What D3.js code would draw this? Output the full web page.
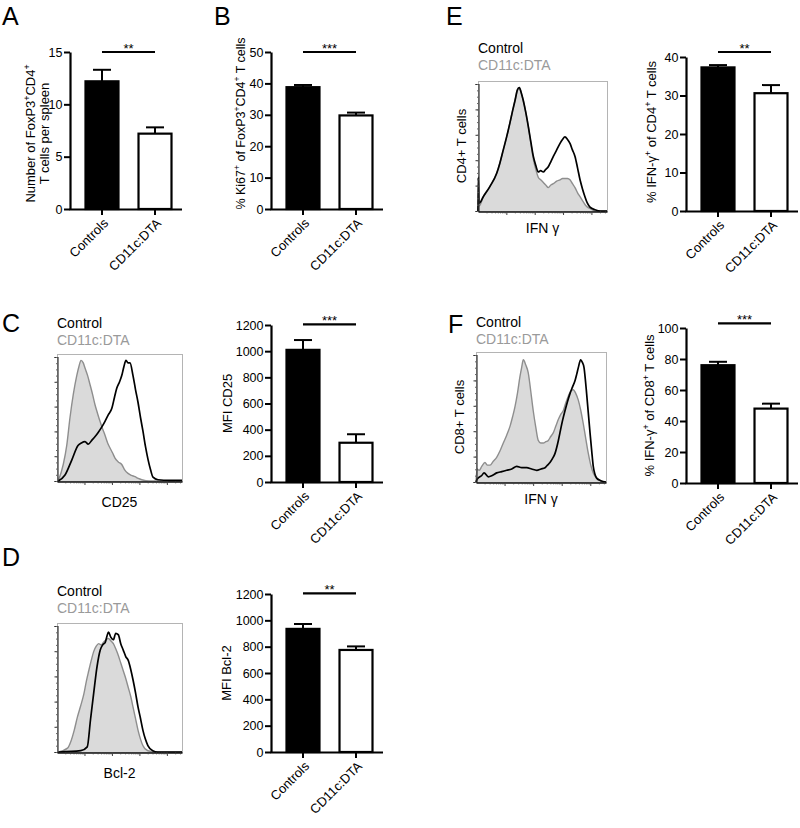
<!DOCTYPE html>
<html><head><meta charset="utf-8">
<script src="https://cdn.jsdelivr.net/npm/d3@7"></script>
<style>
body{margin:0;background:#fff;}
svg text{font-family:"Liberation Sans",Arial,Helvetica,sans-serif;}
</style></head><body>
<svg id="fig" width="800" height="828"></svg>
<script>
// ---------------- DATA ----------------
const groups = ["Controls", "CD11c:DTA"];

const aValues = [12.2, 7.2],   aErrors = [1.1, 0.6],  aTicks = [0, 5, 10, 15],            aSig = "**",  aSigLevel = 15;
const bValues = [38.8, 29.8],  bErrors = [0.7, 0.9],  bTicks = [0, 10, 20, 30, 40, 50],   bSig = "***", bSigLevel = 50;
const cValues = [1010, 300],   cErrors = [75, 65],    cTicks = [0, 200, 400, 600, 800, 1000, 1200], cSig = "***", cSigLevel = 1205;
const dValues = [935, 775],    dErrors = [37, 27],    dTicks = [0, 200, 400, 600, 800, 1000, 1200], dSig = "**",  dSigLevel = 1205;
const eValues = [37.3, 30.6],  eErrors = [0.6, 2.1],  eTicks = [0, 10, 20, 30, 40],       eSig = "**",  eSigLevel = 41.3;
const fValues = [76, 48],      fErrors = [2.2, 3.2],  fTicks = [0, 20, 40, 60, 80, 100],  fSig = "***", fSigLevel = 103;

const legendLabels = ["Control", "CD11c:DTA"];

// histogram curves: [channel (% of axis), count (% of max)]
const cControl = [[1,0],[6.4,4.7],[11.8,16.5],[16.8,28],[19.5,30],[22.4,31],[25,29],[27.8,32],[30.5,35],[32.8,38],[35.5,42],[38.4,47],[41,52],[43.8,57],[46,66],[47.8,73],[50,78],[51.8,83],[53.5,90],[55.2,95],[56.8,93],[58.4,93],[60.8,83],[62.8,72],[64.8,62],[66.8,50],[68.8,39],[70.8,27],[72.8,17],[74.8,9],[76.8,3],[80.8,1],[90,0.5],[100,0.5]];
const cDTA = [[1,0],[5,13],[7.8,28],[10.4,50],[13,68],[15.8,83],[17.5,90],[19.2,95],[21,93],[22.4,89],[24.5,83],[26.4,76],[28.5,68],[30.4,60],[32.5,53],[34.4,47],[36.5,41],[38.4,36],[40.5,30],[42.4,26],[44.5,22],[46.4,18],[49,15],[51.8,13],[54,9],[56.8,6],[59.5,4.5],[62.4,3.4],[65,2],[67.8,1],[74,0],[100,0]];
const dControl = [[1,0],[19,1],[24.2,4],[26.8,25],[29.4,46],[32,66],[34.6,79],[36.5,83],[38.6,85],[40,90],[41.2,93],[43,89],[45.1,87],[47,92],[49,91],[51,84],[53,79],[55,74],[57,71],[59,64],[60.8,56],[62.8,46],[64.8,35],[66.8,26],[68.7,17],[70.7,10],[72.7,5],[76.6,1],[80.6,0],[100,0]];
const dDTA = [[1,0],[8.4,3],[11,8],[13.8,17],[16.3,27],[19,36],[21.5,45],[23.5,55],[25.4,63],[27.4,71],[29.4,78],[31.4,82],[33.3,84],[35.3,83],[37.2,85],[39.2,87],[41.2,88],[43.2,86],[45.1,84],[47,80],[49,75],[51,69],[53,63],[55,57],[57,50],[59,43],[60.8,35],[62.8,26],[64.8,17],[66.8,10],[68.7,5],[72.7,1],[80,0],[100,0]];
const eControl = [[0,0],[0.2,26],[0.9,6],[4.1,11],[9.3,19],[14.5,29],[17,37],[19.6,47],[22.2,57],[24.8,68],[26.8,77],[28.7,85],[30.5,93],[32,95],[33.5,91],[35.1,85],[37,76],[39,65],[41,53],[42.9,42],[44.8,35],[46.7,30],[48.6,31],[50.6,30],[52.5,32],[54.5,34],[56.5,38],[58.4,42],[61,47],[63.6,52],[65.5,55],[67.4,57],[69.4,55],[71.3,52],[73.2,47],[75.2,42],[77.2,33],[79.1,24],[81,17],[82.9,11],[84.8,6],[86.8,3],[90.7,1],[95,0],[100,0]];
const eDTA = [[0,0],[0.2,5],[1,4],[4.1,11],[9.3,19],[14.5,29],[17,37],[19.6,47],[22.2,57],[24.8,68],[26.8,77],[28.7,85],[30.5,93],[32,95],[33.5,91],[35.1,85],[37,76],[39,65],[41,52],[42.9,40],[44.8,32],[46.7,26],[48.6,24],[50.6,22],[52.5,20],[54.5,18],[56.5,20],[58.4,21],[61,23],[63.6,24],[65.5,25],[67.4,25],[69.4,25],[71.3,24],[73.2,21],[75.2,18],[77.2,14],[79.1,11],[81,8],[82.9,5],[84.8,3],[86.8,2],[90.7,0],[100,0]];
const fControl = [[0,0],[0.8,2],[4.4,5],[6.2,7],[9.5,4],[12.5,5],[15.9,7],[19.8,8],[23.6,9],[27.5,10],[31.3,12],[35.2,11],[39,11],[42.8,10],[46.7,9],[50,10],[53.1,11],[55,13],[56.9,15],[58.8,18],[60.8,22],[62.7,29],[64.6,38],[66.5,47],[68.5,55],[70.4,62],[72.3,68],[74.2,73],[76.2,78],[77.5,83],[78.7,88],[80.5,94],[81.8,92],[83.1,88],[84.1,79],[85.1,68],[86.4,53],[87.7,38],[89,24],[90.2,12],[91.5,6],[92.8,3],[96,1],[100,0]];
const fDTA = [[0,0],[0.8,10],[2.5,9],[4.4,12],[6.9,15],[8.8,13],[10.8,13],[13.3,16],[15.9,19],[18.5,24],[21,30],[23.6,36],[26.2,43],[28.1,50],[30,58],[32,69],[33.8,81],[35.1,88],[36.4,94],[38.3,90],[40.2,84],[42.1,70],[44,55],[46,42],[47.9,32],[49.8,30],[51.8,30],[53.7,31],[55.6,32],[57.5,35],[59.5,38],[61.4,43],[63.3,48],[65.2,52],[67.2,55],[69.1,61],[71,66],[72.9,70],[74.8,71],[76.8,68],[78.7,63],[80.6,55],[82.5,45],[84.5,33],[86.4,22],[88.3,13],[90.2,7],[92.1,4],[94,2],[98,0],[100,0]];

// ---------------- DRAWING ----------------
const svg = d3.select("#fig");
const FONT = '"Liberation Sans", Arial, Helvetica, sans-serif';

function rich(sel, parts, size) {
  let shifted = false;
  parts.forEach(p => {
    const isSup = p.startsWith("^");
    const t = sel.append("tspan").text(isSup ? p.slice(1) : p);
    if (isSup) {
      t.attr("font-size", size * 0.68);
      if (!shifted) { t.attr("dy", -size * 0.4); shifted = true; }
    } else if (shifted) {
      t.attr("dy", size * 0.4); shifted = false;
    }
  });
}

function panelLetter(t, x, y) {
  svg.append("text").attr("x", x).attr("y", y).attr("font-size", 25).attr("fill", "#000").text(t);
}

function barChart(c) {
  const g = svg.append("g");
  const y = d3.scaleLinear().domain([0, c.max]).range([c.yBottom, c.yTop]);
  const x = d3.scaleBand().domain(groups).range([c.x0 + 14.5, c.x0 + 102.5]).paddingInner(0.34).paddingOuter(0);
  const bw = x.bandwidth();
  const cx = d => x(d) + bw / 2;

  g.selectAll("rect.bar").data(groups).join("rect")
    .attr("class", "bar")
    .attr("x", d => x(d) + 1).attr("width", bw - 2)
    .attr("y", (d, i) => y(c.values[i]))
    .attr("height", (d, i) => y(0) - y(c.values[i]))
    .attr("fill", (d, i) => i === 0 ? "#000" : "#fff")
    .attr("stroke", "#000").attr("stroke-width", 2.2);

  groups.forEach((d, i) => {
    const top = y(c.values[i] + c.errors[i]);
    g.append("line").attr("x1", cx(d)).attr("x2", cx(d))
      .attr("y1", y(c.values[i])).attr("y2", top)
      .attr("stroke", "#000").attr("stroke-width", 2);
    g.append("line").attr("x1", cx(d) - 9).attr("x2", cx(d) + 9)
      .attr("y1", top).attr("y2", top)
      .attr("stroke", "#000").attr("stroke-width", 2);
  });

  const ay = g.append("g").attr("transform", `translate(${c.x0},0)`)
    .call(d3.axisLeft(y).tickValues(c.ticks).tickSize(6).tickSizeOuter(0).tickPadding(1.5).tickFormat(d3.format("d")));
  ay.attr("font-family", FONT).attr("font-size", 12.5);
  ay.select(".domain").attr("stroke", "#000").attr("stroke-width", 2.2);
  ay.selectAll(".tick line").attr("stroke", "#000").attr("stroke-width", 2);
  ay.selectAll(".tick text").attr("fill", "#000");

  g.append("line").attr("x1", c.x0 - 0.5).attr("x2", c.x0 + 112)
    .attr("y1", y(0) + 0.5).attr("y2", y(0) + 0.5)
    .attr("stroke", "#000").attr("stroke-width", 2.2);

  const ax = g.append("g").attr("transform", `translate(0,${y(0)})`)
    .call(d3.axisBottom(x).tickSize(6).tickSizeOuter(0));
  ax.select(".domain").remove();
  ax.attr("font-family", FONT).attr("font-size", 13);
  ax.selectAll(".tick line").attr("stroke", "#000").attr("stroke-width", 2);
  ax.selectAll(".tick text")
    .attr("fill", "#000")
    .attr("text-anchor", "end")
    .attr("dy", null)
    .attr("y", 0)
    .attr("transform", "translate(7,15) rotate(-45)");

  const sy = y(c.sigLevel);
  g.append("line").attr("x1", cx(groups[0])).attr("x2", cx(groups[1]))
    .attr("y1", sy).attr("y2", sy).attr("stroke", "#000").attr("stroke-width", 2.2);
  g.append("text").attr("x", (cx(groups[0]) + cx(groups[1])) / 2).attr("y", sy + 1)
    .attr("text-anchor", "middle").attr("font-size", 13).attr("fill", "#000").text(c.sig);

  const mid = (c.yTop + c.yBottom) / 2;
  c.labels.forEach(l => {
    const t = g.append("text").attr("transform", `translate(${l.x},${mid + (l.dy || 0)}) rotate(-90)`)
      .attr("text-anchor", "middle").attr("font-size", l.size || 13).attr("fill", "#000");
    rich(t, l.parts, l.size || 13);
  });
}

function histogram(c) {
  const g = svg.append("g");
  const x = d3.scaleLinear().domain([0, 100]).range([c.x, c.x + c.w]);
  const y = d3.scaleLinear().domain([0, 100]).range([c.y + c.h, c.y]);

  g.append("rect").attr("x", c.x + 0.5).attr("y", c.y + 0.5).attr("width", c.w).attr("height", c.h)
    .attr("fill", "#fff").attr("stroke", "#b4b4b4").attr("stroke-width", 1);

  const area = d3.area().x(d => x(d[0])).y0(y(0)).y1(d => y(d[1])).curve(d3.curveMonotoneX);
  const line = d3.line().x(d => x(d[0])).y(d => y(d[1])).curve(d3.curveMonotoneX);

  g.append("path").datum(c.gray).attr("d", area).attr("fill", "#dadada");
  g.append("path").datum(c.gray).attr("d", line).attr("fill", "none").attr("stroke", "#8e8e8e").attr("stroke-width", 1.4);
  g.append("path").datum(c.black).attr("d", line).attr("fill", "none").attr("stroke", "#000").attr("stroke-width", 1.7);

  const yt = d3.scaleLinear().domain([0, 100]).range([c.y + c.h, c.y + 3]);
  const al = g.append("g").attr("transform", `translate(${c.x + 0.5},0)`)
    .call(d3.axisLeft(yt).ticks(5).tickSize(3).tickFormat(""));
  al.select(".domain").attr("stroke", "#333").attr("stroke-width", 1.2);
  al.selectAll(".tick line").attr("stroke", "#333");
  const alm = g.append("g").attr("transform", `translate(${c.x + 0.5},0)`)
    .call(d3.axisLeft(yt).ticks(25).tickSize(1.5).tickFormat("").tickSizeOuter(0));
  alm.select(".domain").remove();
  alm.selectAll(".tick line").attr("stroke", "#666");

  const xl = d3.scaleLog().domain([10, Math.pow(10, 5.55)]).range([c.x, c.x + c.w]);
  const decades = [100, 1000, 10000, 100000];
  const ab = g.append("g").attr("transform", `translate(0,${c.y + c.h + 0.5})`)
    .call(d3.axisBottom(xl).tickValues(xl.ticks().filter(v => v >= 20)).tickSize(1.8).tickFormat("").tickSizeOuter(0));
  ab.select(".domain").attr("stroke", "#111").attr("stroke-width", 1.3);
  ab.selectAll(".tick line").attr("stroke", "#444").attr("y2", v => decades.includes(v) ? 3.5 : 1.8);

  g.append("text").attr("x", c.x).attr("y", c.legendY).attr("font-size", 14).attr("fill", "#000").text(legendLabels[0]);
  g.append("text").attr("x", c.x).attr("y", c.legendY + 17).attr("font-size", 14).attr("fill", "#9a9a9a").text(legendLabels[1]);

  g.append("text").attr("x", c.x + c.w / 2).attr("y", c.y + c.h + c.xLabelDy)
    .attr("text-anchor", "middle").attr("font-size", 14).attr("fill", "#000").text(c.xLabel);

  if (c.yLabel) {
    g.append("text").attr("transform", `translate(${c.x - 12},${c.y + c.h / 2}) rotate(-90)`)
      .attr("text-anchor", "middle").attr("font-size", 13).attr("fill", "#000").text(c.yLabel);
  }
}

panelLetter("A", 2, 25);
panelLetter("B", 214, 25);
panelLetter("C", 2, 332);
panelLetter("D", 2, 566);
panelLetter("E", 446, 25);
panelLetter("F", 448, 333);

barChart({x0: 70, yTop: 52, yBottom: 209, max: 15, ticks: aTicks, values: aValues, errors: aErrors, sig: aSig, sigLevel: aSigLevel,
  labels: [{x: 35, dy: 3, parts: ["Number of FoxP3", "^+", "CD4", "^+"]}, {x: 49, dy: 3, parts: ["T cells per spleen"]}]});
barChart({x0: 271, yTop: 52, yBottom: 209, max: 50, ticks: bTicks, values: bValues, errors: bErrors, sig: bSig, sigLevel: bSigLevel,
  labels: [{x: 245, dy: -7, size: 12.5, parts: ["% Ki67", "^+", " of FoxP3", "^+", "CD4", "^+", " T cells"]}]});
barChart({x0: 271, yTop: 325, yBottom: 482, max: 1200, ticks: cTicks, values: cValues, errors: cErrors, sig: cSig, sigLevel: cSigLevel,
  labels: [{x: 232, parts: ["MFI CD25"]}]});
barChart({x0: 271, yTop: 594, yBottom: 752, max: 1200, ticks: dTicks, values: dValues, errors: dErrors, sig: dSig, sigLevel: dSigLevel,
  labels: [{x: 231, parts: ["MFI Bcl-2"]}]});
barChart({x0: 686, yTop: 57, yBottom: 211, max: 40, ticks: eTicks, values: eValues, errors: eErrors, sig: eSig, sigLevel: eSigLevel,
  labels: [{x: 656, dy: -2, parts: ["% IFN-γ", "^+", " of CD4", "^+", " T cells"]}]});
barChart({x0: 686, yTop: 328, yBottom: 483, max: 100, ticks: fTicks, values: fValues, errors: fErrors, sig: fSig, sigLevel: fSigLevel,
  labels: [{x: 654, parts: ["% IFN-γ", "^+", " of CD8", "^+", " T cells"]}]});

histogram({x: 57, y: 354, w: 125, h: 127, gray: cDTA, black: cControl, legendY: 328, xLabel: "CD25", xLabelDy: 26});
histogram({x: 57, y: 623, w: 125, h: 129, gray: dDTA, black: dControl, legendY: 596, xLabel: "Bcl-2", xLabelDy: 26});
histogram({x: 478, y: 81, w: 129, h: 130, gray: eDTA, black: eControl, legendY: 53, xLabel: "IFN γ", xLabelDy: 22, yLabel: "CD4+ T cells"});
histogram({x: 476, y: 352, w: 130, h: 130, gray: fDTA, black: fControl, legendY: 327, xLabel: "IFN γ", xLabelDy: 22, yLabel: "CD8+ T cells"});
</script>
</body></html>
